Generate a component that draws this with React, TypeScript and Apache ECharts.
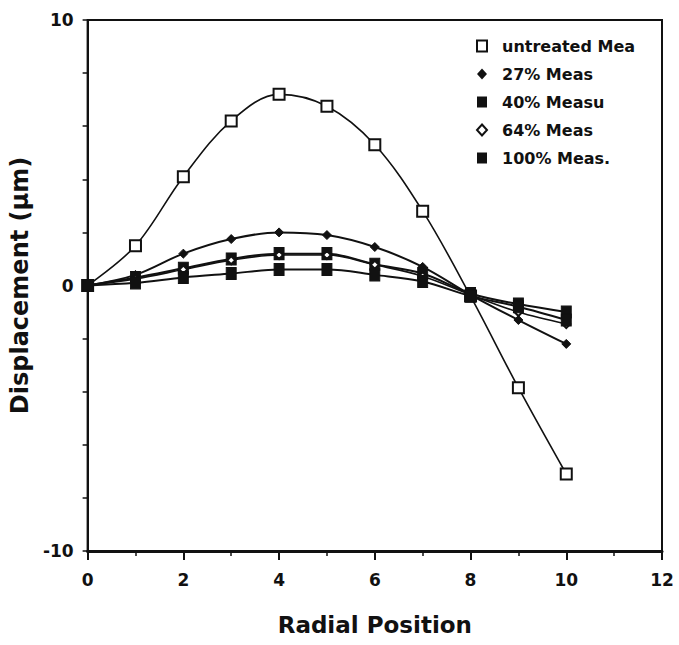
import React, { useEffect, useRef } from "react";
import * as echarts from "echarts";

const radialPositions = [0, 1, 2, 3, 4, 5, 6, 7, 8, 9, 10];
const untreated = [0, 1.5, 4.1, 6.2, 7.2, 6.75, 5.3, 2.8, -0.4, -3.85, -7.1];
const meas27 = [0, 0.4, 1.2, 1.75, 2.0, 1.9, 1.45, 0.7, -0.35, -1.3, -2.2];
const meas40 = [0, 0.3, 0.65, 1.0, 1.2, 1.2, 0.8, 0.45, -0.3, -0.7, -1.0];
const meas64 = [0, 0.25, 0.6, 0.95, 1.15, 1.15, 0.78, 0.35, -0.35, -1.0, -1.45];
const meas100 = [0, 0.1, 0.3, 0.45, 0.6, 0.6, 0.4, 0.15, -0.4, -0.8, -1.3];
const seriesNames = ["untreated Mea", "27% Meas", "40% Measu", "64% Meas", "100% Meas."];
const yTickLabels = ["-10", "0", "10"];

const FONT = "DejaVu Sans";

export default function App() {
  const ref = useRef<HTMLDivElement>(null);
  useEffect(() => {
    if (!ref.current) return;
    const chart = echarts.init(ref.current, null, { renderer: "svg" });
    const pts = (vals: number[]) => radialPositions.map((x, i) => [x, vals[i]]);
    const mk = (
      name: string,
      vals: number[],
      symbol: string,
      size: number | number[],
      hollow: boolean,
      lw: number
    ) => ({
      name,
      type: "line",
      data: pts(vals),
      smooth: 0.35,
      symbol,
      symbolSize: size,
      showSymbol: true,
      lineStyle: { color: "#111", width: lw },
      itemStyle: {
        color: hollow ? "#fff" : "#111",
        borderColor: "#111",
        borderWidth: hollow ? 2 : 1,
      },
    });
    chart.setOption({
      animation: false,
      backgroundColor: "#fff",
      grid: {
        left: 84,
        right: 17,
        top: 20,
        bottom: 94,
        show: true,
        borderColor: "#111",
        borderWidth: 2,
        backgroundColor: "transparent",
      },
      legend: {
        orient: "vertical",
        left: 471,
        top: 32,
        itemGap: 10,
        itemWidth: 10,
        itemHeight: 11,
        textStyle: { fontFamily: FONT, fontSize: 16, fontWeight: "bold", color: "#111", padding: [0, 0, 0, 10], lineHeight: 18 },
        data: [
          { name: seriesNames[0], icon: "rect", itemStyle: { color: "#fff", borderColor: "#111", borderWidth: 2 } },
          { name: seriesNames[1], icon: "diamond", itemStyle: { color: "#111", borderColor: "#111", borderWidth: 0 } },
          { name: seriesNames[2], icon: "rect", itemStyle: { color: "#111", borderColor: "#111", borderWidth: 0 } },
          { name: seriesNames[3], icon: "diamond", itemStyle: { color: "#fff", borderColor: "#111", borderWidth: 2 } },
          { name: seriesNames[4], icon: "rect", itemStyle: { color: "#111", borderColor: "#111", borderWidth: 0 } },
        ],
      },
      xAxis: {
        type: "value",
        min: 0,
        max: 12,
        interval: 2,
        name: "Radial Position",
        nameLocation: "middle",
        nameGap: 62,
        nameTextStyle: { fontFamily: FONT, fontSize: 23, fontWeight: "bold", color: "#111" },
        axisLine: { show: true, onZero: false, lineStyle: { color: "#111", width: 3 } },
        axisTick: { show: true, length: 9, lineStyle: { color: "#111", width: 2 } },
        minorTick: { show: true, splitNumber: 2, length: 5, lineStyle: { color: "#111", width: 1.5 } },
        splitLine: { show: false },
        axisLabel: { fontFamily: FONT, fontSize: 17, fontWeight: "bold", color: "#111", margin: 20 },
      },
      yAxis: {
        type: "value",
        min: -10,
        max: 10,
        interval: 2,
        name: "Displacement (\u03bcm)",
        nameLocation: "middle",
        nameGap: 46,
        nameRotate: 90,
        nameTextStyle: { fontFamily: FONT, fontSize: 24, fontWeight: "bold", color: "#111" },
        axisLine: { show: true, onZero: false, lineStyle: { color: "#111", width: 2 } },
        axisTick: { show: true, length: 5, lineStyle: { color: "#111", width: 1.5 } },
        splitLine: { show: false },
        axisLabel: {
          fontFamily: FONT,
          fontSize: 17,
          fontWeight: "bold",
          color: "#111",
          margin: 14,
          formatter: (v: number) => (yTickLabels.includes(String(v)) ? String(v) : ""),
        },
      },
      series: [
        mk(seriesNames[0], untreated, "rect", 11, true, 1.6),
        mk(seriesNames[1], meas27, "diamond", 9, false, 2),
        mk(seriesNames[2], meas40, "rect", [10, 12], false, 2),
        mk(seriesNames[3], meas64, "diamond", 8, true, 1.6),
        mk(seriesNames[4], meas100, "rect", [10, 12], false, 2),
      ],
    });
    return () => chart.dispose();
  }, []);
  return <div ref={ref} style={{ width: 679, height: 645, position: "absolute", left: 0, top: 0 }} />;
}
